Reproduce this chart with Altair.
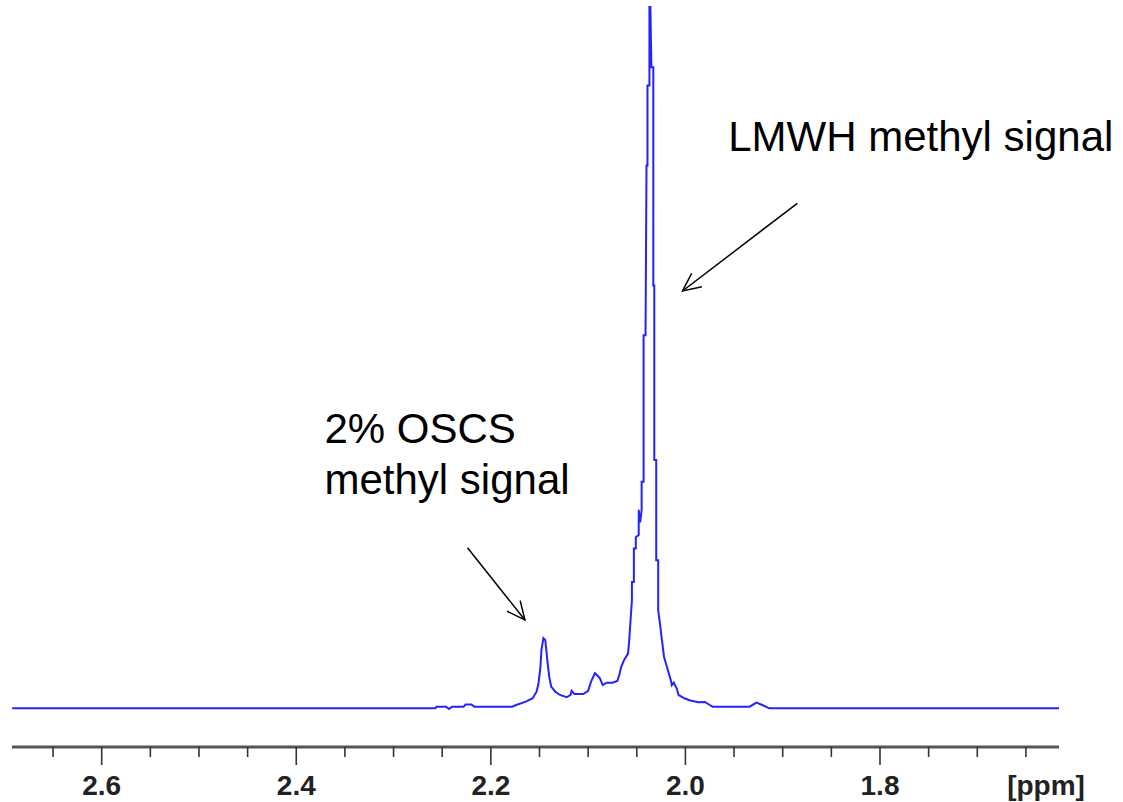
import altair as alt
import pandas as pd

# Spectrum trace (chemical shift in ppm, relative intensity)
ppm = [2.692, 2.257, 2.256, 2.246, 2.243, 2.240, 2.228, 2.226, 2.220, 2.217,
       2.178, 2.174, 2.164, 2.157, 2.153, 2.151, 2.149, 2.148, 2.146, 2.144,
       2.142, 2.140, 2.138, 2.134, 2.129, 2.122, 2.118, 2.117, 2.114, 2.105,
       2.100, 2.097, 2.093, 2.091, 2.088, 2.085, 2.081, 2.075, 2.070, 2.068,
       2.066, 2.063, 2.059, 2.058, 2.055, 2.055, 2.053, 2.053, 2.051, 2.051,
       2.048, 2.048, 2.0465, 2.045, 2.045, 2.043, 2.043, 2.041, 2.040, 2.039,
       2.039, 2.037, 2.037, 2.036, 2.035, 2.033, 2.033, 2.032, 2.032, 2.030,
       2.030, 2.028, 2.028, 2.026, 2.025, 2.022, 2.019, 2.015, 2.014, 2.012,
       2.009, 2.007, 2.001, 1.996, 1.987, 1.980, 1.975, 1.972, 1.934, 1.927,
       1.921, 1.914, 1.616]
intensity = [0, 0, 0.23, 0.23, -0.1, 0.23, 0.23, 0.54, 0.54, 0.23,
             0.23, 0.47, 0.94, 1.43, 2.37, 3.56, 5.93, 8.31, 10.0, 9.7,
             6.9, 4.5, 3.1, 2.4, 1.9, 1.57, 1.9, 2.5, 2.04, 2.04,
             2.5, 3.8, 5.0, 4.75, 4.3, 3.3, 3.65, 3.65, 3.9, 4.75,
             5.9, 6.9, 7.8, 9.3, 15.4, 18.0, 18.0, 22.8, 22.8, 24.4,
             24.7, 28.3, 26.5, 28.3, 32.3, 32.3, 53.2, 53.2, 77.4, 77.4,
             88.8, 88.8, 100, 100, 91.4, 91.4, 60.3, 60.3, 35.4, 35.4,
             21.1, 21.1, 14.0, 11.9, 10.7, 7.35, 5.9, 4.0, 3.3, 3.65,
             2.85, 1.9, 1.43, 1.14, 0.86, 0.9, 0.47, 0.23, 0.23, 0.8,
             0.47, 0, 0]

# Axis ticks and labels
major_ticks = [2.6, 2.4, 2.2, 2.0, 1.8]
major_labels = ["2.6", "2.4", "2.2", "2.0", "1.8"]
minor_ticks = [2.65, 2.55, 2.5, 2.45, 2.35, 2.3, 2.25, 2.15, 2.1, 2.05,
               1.95, 1.9, 1.85, 1.75, 1.7, 1.65]
axis_title = "[ppm]"

# Annotations (text, ppm, intensity at text baseline)
note_text = ["LMWH methyl signal", "2% OSCS", "methyl signal"]
note_ppm = [1.956, 2.371, 2.371]
note_int = [79.5, 37.9, 30.5]

# Arrows (start -> tip)
arrow_x = [1.885, 2.224]
arrow_y = [72.0, 22.9]
arrow_x2 = [2.003, 2.165]
arrow_y2 = [59.5, 12.6]
arrow_angle = [142.6, 51.1]

X_DOMAIN = [2.6922, 1.6160]
Y_DOMAIN = [-5.52, 100]
PLOT_W, PLOT_H = 1047, 740

spec = pd.DataFrame({"ppm": ppm, "intensity": intensity, "idx": list(range(len(ppm)))})
notes = pd.DataFrame({"text": note_text, "ppm": note_ppm, "intensity": note_int})
arrows = pd.DataFrame({"x": arrow_x, "y": arrow_y, "x2": arrow_x2, "y2": arrow_y2,
                       "angle": arrow_angle})
major_df = pd.DataFrame({"mv": major_ticks})
label_df = pd.DataFrame({"lv": major_ticks, "label": major_labels})
minor_df = pd.DataFrame({"v": minor_ticks})
title_df = pd.DataFrame({"t": [axis_title]})

xscale = alt.Scale(domain=X_DOMAIN, nice=False, zero=False)
yscale = alt.Scale(domain=Y_DOMAIN, nice=False, zero=False)

LABEL_FONT = "Liberation Sans Narrow, Liberation Sans, Arial"

line = alt.Chart(spec).mark_line(color="#2323ff", strokeWidth=2, clip=False).encode(
    x=alt.X("ppm:Q", scale=xscale, axis=None),
    y=alt.Y("intensity:Q", scale=yscale, axis=None),
    order="idx:Q",
)

axis_line = alt.Chart(title_df).mark_rule(color="#555555", strokeWidth=3).encode(
    x=alt.value(0),
    x2=alt.value(PLOT_W),
    y=alt.value(PLOT_H),
)

minor_rules = alt.Chart(minor_df).mark_rule(color="#333333", strokeWidth=1.6).encode(
    x=alt.X("v:Q", scale=xscale, axis=None),
    y=alt.value(PLOT_H),
    y2=alt.value(PLOT_H + 10),
)

major_rules = alt.Chart(major_df).mark_rule(color="#333333", strokeWidth=1.6).encode(
    x=alt.X("mv:Q", scale=xscale, axis=None),
    y=alt.value(PLOT_H),
    y2=alt.value(PLOT_H + 18),
)

tick_labels = alt.Chart(label_df).mark_text(
    align="center", baseline="alphabetic", font=LABEL_FONT, fontWeight="bold",
    fontSize=28, color="#222222"
).encode(
    x=alt.X("lv:Q", scale=xscale, axis=None),
    y=alt.value(PLOT_H + 48),
    text="label:N",
)

title_text = alt.Chart(title_df).mark_text(
    align="center", baseline="alphabetic", font=LABEL_FONT, fontWeight="bold",
    fontSize=28, color="#222222"
).encode(
    x=alt.value(1034),
    y=alt.value(PLOT_H + 48),
    text="t:N",
)

text = alt.Chart(notes).mark_text(
    align="left", baseline="alphabetic", font="Liberation Sans", fontSize=42, color="black"
).encode(
    x=alt.X("ppm:Q", scale=xscale, axis=None),
    y=alt.Y("intensity:Q", scale=yscale, axis=None),
    text="text:N",
)

shafts = alt.Chart(arrows).mark_rule(color="black", strokeWidth=1.5).encode(
    x=alt.X("x:Q", scale=xscale, axis=None),
    y=alt.Y("y:Q", scale=yscale, axis=None),
    x2="x2:Q",
    y2="y2:Q",
)

heads = alt.Chart(arrows).mark_point(
    shape="M -1 -0.47 L 0 0 L -1 0.47", filled=False, size=1296,
    color="black", strokeWidth=1.5, opacity=1
).encode(
    x=alt.X("x2:Q", scale=xscale, axis=None),
    y=alt.Y("y2:Q", scale=yscale, axis=None),
    angle=alt.Angle("angle:Q", scale=None),
)

chart = alt.layer(
    line, axis_line, minor_rules, tick_labels, title_text, text, shafts, heads, major_rules
).properties(
    width=PLOT_W,
    height=PLOT_H,
    autosize=alt.AutoSizeParams(type="none"),
    padding={"left": 12, "top": 7, "right": 64, "bottom": 55},
    background="white",
).configure_view(stroke=None)

chart.save("out.html", embed_options={"renderer": "svg", "actions": False})
